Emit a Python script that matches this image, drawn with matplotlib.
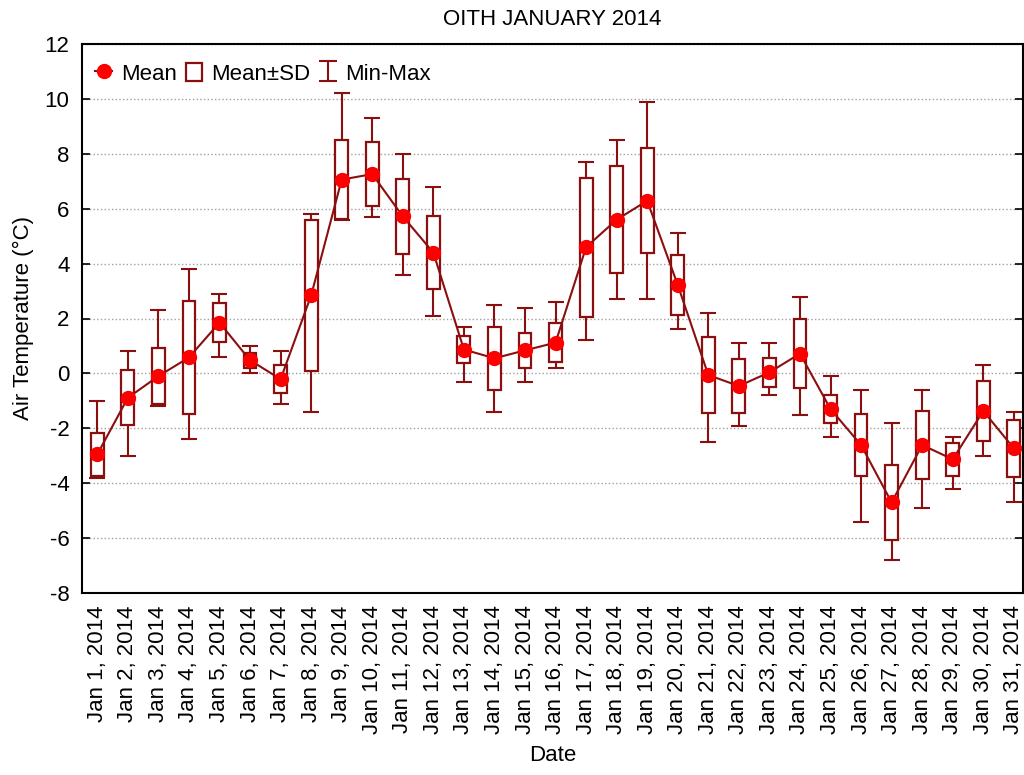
import numpy as np
import matplotlib
matplotlib.use("Agg")
import matplotlib.pyplot as plt
from matplotlib.patches import Patch
from matplotlib.lines import Line2D
from matplotlib.path import Path
from matplotlib.ticker import MultipleLocator

plt.rcParams["font.family"] = ["Liberation Sans", "DejaVu Sans"]

# Daily air temperature statistics, January 2014
days = list(range(1, 32))
day_labels = [f"Jan {d}, 2014" for d in days]

mean_t = [-2.95, -0.89, -0.10, 0.58, 1.85, 0.48, -0.21, 2.84, 7.06, 7.26,
          5.72, 4.40, 0.87, 0.55, 0.84, 1.12, 4.60, 5.60, 6.29, 3.22,
          -0.06, -0.46, 0.04, 0.72, -1.30, -2.61, -4.70, -2.61, -3.13, -1.37,
          -2.73]
sd_t = [0.78, 1.00, 1.03, 2.05, 0.72, 0.28, 0.50, 2.75, 1.44, 1.17,
        1.36, 1.34, 0.49, 1.15, 0.64, 0.70, 2.53, 1.94, 1.92, 1.08,
        1.40, 0.98, 0.53, 1.25, 0.50, 1.14, 1.37, 1.24, 0.59, 1.10,
        1.05]
max_t = [-1.0, 0.8, 2.3, 3.8, 2.9, 1.0, 0.8, 5.8, 10.2, 9.3,
         8.0, 6.8, 1.7, 2.5, 2.4, 2.6, 7.7, 8.5, 9.9, 5.1,
         2.2, 1.1, 1.1, 2.8, -0.1, -0.6, -1.8, -0.6, -2.3, 0.3,
         -1.4]
min_t = [-3.8, -3.0, -1.2, -2.4, 0.6, 0.0, -1.1, -1.4, 5.6, 5.7,
         3.6, 2.1, -0.3, -1.4, -0.3, 0.2, 1.2, 2.7, 2.7, 1.6,
         -2.5, -1.9, -0.8, -1.5, -2.3, -5.4, -6.8, -4.9, -4.2, -3.0,
         -4.7]

DARK = "#8b0f0f"
FS = 16

x = np.array(days)
mean_a = np.array(mean_t)
sd_a = np.array(sd_t)
yerr = [mean_a - np.array(min_t), np.array(max_t) - mean_a]

fig, ax = plt.subplots(figsize=(10.24, 7.75), dpi=100)
fig.subplots_adjust(left=82/1024, right=1023/1024, top=1-44/775, bottom=1-593/775)

# min-max whiskers
ax.errorbar(x, mean_a, yerr=yerr, fmt="none", ecolor=DARK, elinewidth=1.5,
            capsize=6, capthick=1.5, zorder=1)
# mean +- SD boxes
ax.bar(x, 2 * sd_a, bottom=mean_a - sd_a, width=0.42, facecolor="white",
       edgecolor=DARK, linewidth=1.6, zorder=2)
# means
mline, = ax.plot(x, mean_a, color=DARK, lw=1.5, marker="o", markersize=10,
                 markerfacecolor="#ff0000", markeredgecolor="#ff0000", zorder=3)

ax.set_xlim(0.5, 31.3)
ax.set_ylim(-8, 12)
ax.yaxis.set_major_locator(MultipleLocator(2))
ax.set_yticklabels([f"{v:g}" for v in ax.get_yticks()])
ax.set_xticks(x)
ax.set_xticklabels(day_labels, rotation=90)
ax.set_xticks(x[::2], minor=True)

ax.tick_params(axis="x", which="major", length=0, pad=9, labelsize=FS)
ax.tick_params(axis="x", which="minor", direction="in", length=6, width=1.2,
               top=True, bottom=True)
ax.tick_params(axis="y", which="major", direction="in", length=6, width=1.2,
               right=True, pad=9, labelsize=FS)

ax.grid(axis="y", linestyle=":", color="#a0a0a0", linewidth=1)
ax.set_axisbelow(True)
for s in ax.spines.values():
    s.set_linewidth(1.5)

ax.set_title("OITH JANUARY 2014", fontsize=FS, pad=14)
ax.set_xlabel("Date", fontsize=FS, labelpad=8)
ax.set_ylabel("Air Temperature (°C)", fontsize=FS, labelpad=8)

# legend handles
box_handle = Patch(facecolor="white", edgecolor=DARK, linewidth=1.6)
i_path = Path([(-0.85, -1), (0.85, -1), (0, -1), (0, 1), (-0.85, 1), (0.85, 1)],
              [Path.MOVETO, Path.LINETO, Path.MOVETO, Path.LINETO,
               Path.MOVETO, Path.LINETO])
minmax_handle = Line2D([], [], linestyle="none", marker=i_path, markersize=14.5,
                       markeredgecolor=DARK, markerfacecolor="none",
                       markeredgewidth=1.5)
ax.legend([mline, box_handle, minmax_handle], ["Mean", "Mean±SD", "Min-Max"],
          loc="upper left", bbox_to_anchor=(0, 0.99), ncol=3, frameon=False,
          fontsize=FS, handlelength=0.75, handleheight=0.9, handletextpad=0.4,
          columnspacing=0.4, borderaxespad=0.2)

plt.savefig("out.png", dpi=100)
